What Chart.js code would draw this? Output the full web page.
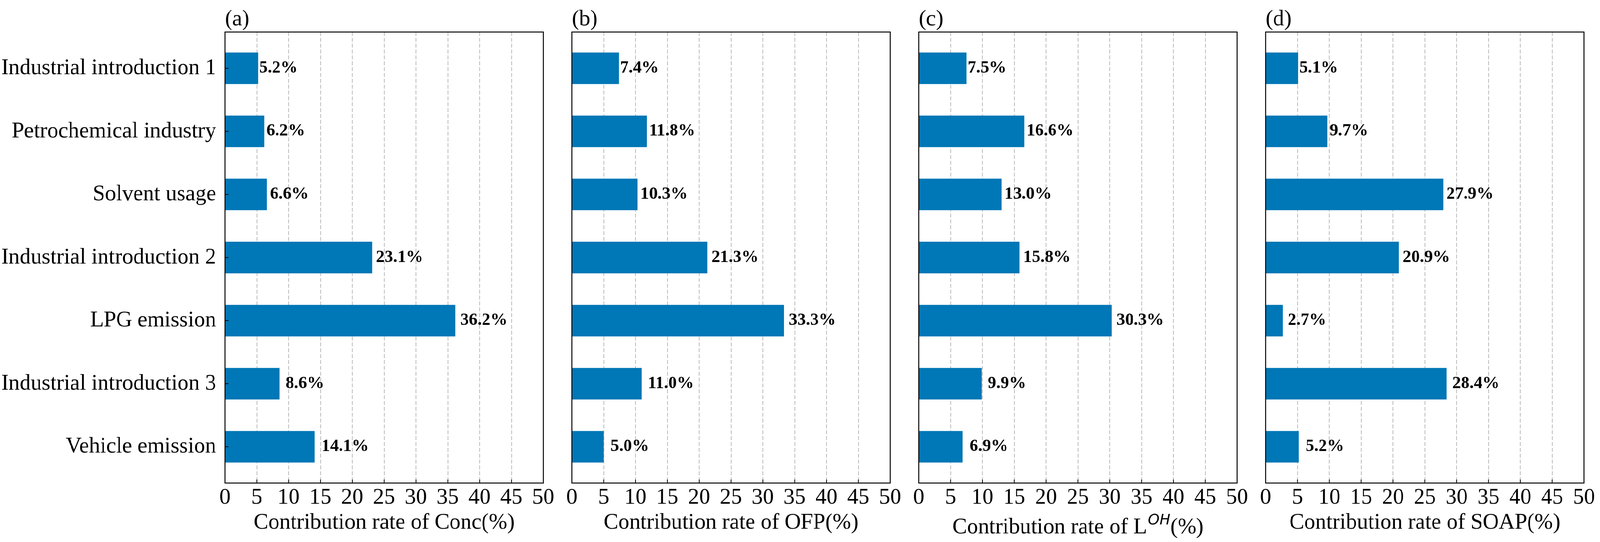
<!DOCTYPE html>
<html>
<head>
<meta charset="utf-8">
<title>Contribution rate by source</title>
<script src="https://cdn.jsdelivr.net/npm/chart.js@4.4.1/dist/chart.umd.min.js"></script>
<style>
  html, body { margin: 0; padding: 0; background: #fff; overflow: hidden; }
  #stage { width: 4197px; height: 1388px; position: relative; transform-origin: 0 0; }
  #stage canvas { position: absolute; top: 0; }
</style>
</head>
<body>
<div id="stage">
  <canvas id="pa"></canvas>
  <canvas id="pb"></canvas>
  <canvas id="pc"></canvas>
  <canvas id="pd"></canvas>
</div>
<script>
/* ── dados ───────────────────────────── */
const categories = [
  'Industrial introduction 1',
  'Petrochemical industry',
  'Solvent usage',
  'Industrial introduction 2',
  'LPG emission',
  'Industrial introduction 3',
  'Vehicle emission'
];
const concRate = [5.2, 6.2, 6.6, 23.1, 36.2, 8.6, 14.1];
const ofpRate  = [7.4, 11.8, 10.3, 21.3, 33.3, 11.0, 5.0];
const lohRate  = [7.5, 16.6, 13.0, 15.8, 30.3, 9.9, 6.9];
const soapRate = [5.1, 9.7, 27.9, 20.9, 2.7, 28.4, 5.2];
const xTicks   = [0, 5, 10, 15, 20, 25, 30, 35, 40, 45, 50];
const panelTags = ['(a)', '(b)', '(c)', '(d)'];

/* ── layout ──────────────────────────── */
const SERIF = '"Liberation Serif", "Times New Roman", serif';
const BAR_COLOR = '#0077b6';
const W_ALL = 4197, H = 1388;
const PLOT_TOP = 82, PLOT_BOTTOM = 1237, PLOT_W = 835, RIGHT_PAD = 40;
const plotLefts = [590, 1500, 2410, 3320];

/* o viewport real pode ser mais estreito que 4197px: encaixa o palco */
(function fitStage() {
  const kx = (window.innerWidth || W_ALL) / W_ALL;
  const ky = (window.innerHeight || H) / H;
  document.getElementById('stage').style.transform = `scale(${kx}, ${ky})`;
})();

const panels = [
  { id: 'pa', values: concRate, showCats: true,  title: [{ t: 'Contribution rate of Conc(%)' }] },
  { id: 'pb', values: ofpRate,  showCats: false, title: [{ t: 'Contribution rate of OFP(%)' }] },
  { id: 'pc', values: lohRate,  showCats: false, title: [{ t: 'Contribution rate of L' }, { t: 'OH', sup: true }, { t: '(%)' }] },
  { id: 'pd', values: soapRate, showCats: false, title: [{ t: 'Contribution rate of SOAP(%)' }] }
];

function drawAxisTitle(ctx, parts, cx) {
  const hasSup = parts.some(p => p.sup);
  const base = hasSup ? 1366 : 1354;
  const fonts = parts.map(p => p.sup ? 'italic 38px "DejaVu Sans"' : `58px ${SERIF}`);
  const widths = parts.map((p, i) => { ctx.font = fonts[i]; return ctx.measureText(p.t).width; });
  const gaps = parts.map(p => p.sup ? 3 : 0);
  const total = widths.reduce((s, w) => s + w, 0) + gaps.reduce((s, g) => s + g, 0);
  let x = cx - total / 2;
  ctx.textAlign = 'left';
  ctx.textBaseline = 'alphabetic';
  parts.forEach((p, i) => {
    ctx.font = fonts[i];
    x += gaps[i];
    ctx.fillText(p.t, x, p.sup ? base - 23 : base);
    x += widths[i];
  });
}

function decorPlugin(cfg, tag) {
  return {
    id: 'decor',
    afterDraw(chart) {
      const { ctx, chartArea: a, scales: { x, y } } = chart;
      ctx.save();
      ctx.fillStyle = '#000';
      ctx.strokeStyle = '#000';

      /* ticks para dentro */
      ctx.lineWidth = 2;
      ctx.beginPath();
      xTicks.forEach(v => {
        const px = x.getPixelForValue(v);
        ctx.moveTo(px, a.bottom);
        ctx.lineTo(px, a.bottom - 9);
      });
      if (cfg.showCats) {
        categories.forEach((c, k) => {
          const py = y.getPixelForValue(k);
          ctx.moveTo(a.left, py);
          ctx.lineTo(a.left + 9, py);
        });
      }
      ctx.stroke();

      /* moldura */
      ctx.lineWidth = 2.5;
      ctx.strokeRect(a.left, a.top, a.right - a.left, a.bottom - a.top);

      /* rótulos das barras */
      ctx.font = `bold 45px ${SERIF}`;
      ctx.textAlign = 'left';
      ctx.textBaseline = 'alphabetic';
      cfg.values.forEach((v, k) => {
        ctx.fillText(v.toFixed(1) + '%', x.getPixelForValue(v) + 3 + k * 2.5, y.getPixelForValue(k) + 11);
      });

      /* letra do painel */
      ctx.font = `58px ${SERIF}`;
      ctx.fillText(tag, a.left, 65);

      drawAxisTitle(ctx, cfg.title, (a.left + a.right) / 2);
      ctx.restore();
    }
  };
}

function renderPanel(cfg, i) {
  const yW = cfg.showCats ? plotLefts[i] : 20;
  const W  = yW + PLOT_W + RIGHT_PAD;
  const cv = document.getElementById(cfg.id);
  cv.width = W; cv.height = H;
  cv.style.width = W + 'px'; cv.style.height = H + 'px';
  cv.style.left = (plotLefts[i] - yW) + 'px';

  new Chart(cv, {
    type: 'bar',
    data: {
      datasets: [{
        data: cfg.values.map((v, k) => ({ x: v, y: k })),
        backgroundColor: BAR_COLOR,
        borderWidth: 0,
        barPercentage: 0.5,
        categoryPercentage: 1
      }]
    },
    options: {
      indexAxis: 'y',
      responsive: false,
      animation: false,
      devicePixelRatio: 1,
      layout: { padding: { top: PLOT_TOP, right: RIGHT_PAD, left: 0, bottom: 0 } },
      plugins: { legend: { display: false }, tooltip: { enabled: false } },
      scales: {
        x: {
          type: 'linear', min: 0, max: 50, z: 1,
          afterBuildTicks: s => { s.ticks = xTicks.map(v => ({ value: v })); },
          afterFit: s => { s.height = H - PLOT_BOTTOM; },
          ticks: { color: '#000', font: { family: SERIF, size: 58 }, padding: 3, maxRotation: 0, autoSkip: false },
          grid: {
            drawTicks: false,
            lineWidth: 1.6,
            color: c => (c.tick && c.tick.value > 0 && c.tick.value < 50) ? 'rgba(100,100,100,0.55)' : 'rgba(0,0,0,0)'
          },
          border: { display: false, dash: [10, 5] }
        },
        y: {
          type: 'linear', reverse: true, offset: false, min: -0.575, max: 6.575,
          afterBuildTicks: s => { s.ticks = categories.map((c, k) => ({ value: k })); },
          afterFit: s => { s.width = yW; },
          ticks: {
            display: cfg.showCats,
            autoSkip: false,
            color: '#000',
            padding: 15,
            font: { family: SERIF, size: 58 },
            callback: v => categories[v]
          },
          grid: { display: false },
          border: { display: false }
        }
      }
    },
    plugins: [decorPlugin(cfg, panelTags[i])]
  });
}

panels.forEach(renderPanel);
</script>
</body>
</html>
